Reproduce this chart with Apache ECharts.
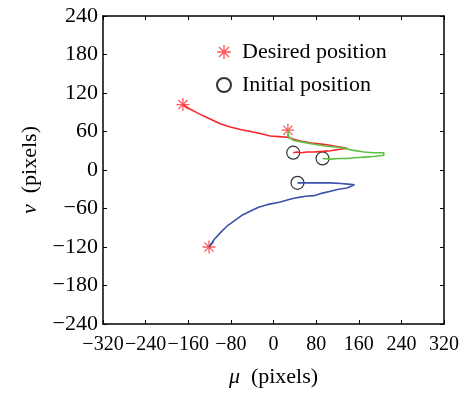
<!DOCTYPE html>
<html>
<head>
<meta charset="utf-8">
<script src="https://cdn.jsdelivr.net/npm/echarts@6/dist/echarts.min.js"></script>
<style>
  html, body { margin: 0; padding: 0; background: #fff; }
  #chart { width: 462px; height: 394px; }
</style>
</head>
<body>
<div id="chart"></div>
<script>
// tick values
var uTicks = [-320, -240, -160, -80, 0, 80, 160, 240, 320];
var vTicks = [-240, -180, -120, -60, 0, 60, 120, 180, 240];

// desired / initial positions (u, v)
var desiredU = [-170, 27, -121];
var desiredV = [102, 62, -120];
var initialU = [37, 92, 45];
var initialV = [27, 18, -20];

// trajectories
var redU = [37, 44, 51, 63, 76, 92, 107, 122, 138, 138, 116, 94, 72, 50, 38, 26, 10, -6, -25, -43, -62, -81, -100, -118, -131, -143, -157, -170];
var redV = [27, 28, 27, 28, 28, 29, 30, 32, 34, 35, 37, 40, 42, 45, 48, 51, 52, 53, 57, 60, 63, 67, 72, 79, 84, 89, 95, 102];
var greenU = [92, 107, 122, 138, 154, 170, 188, 207, 207, 188, 170, 148, 126, 100, 76, 57, 38, 29, 27];
var greenV = [18, 17, 18, 18, 19, 20, 21, 23, 27, 27, 28, 31, 35, 37, 40, 43, 46, 51, 62];
var blueU = [45, 76, 107, 126, 140, 152, 138, 122, 107, 92, 76, 60, 45, 29, 13, -12, -28, -43, -60, -75, -88, -100, -111, -121];
var blueV = [-20, -20, -20, -21, -22, -23, -28, -30, -33, -36, -40, -41, -43, -46, -50, -54, -58, -64, -71, -80, -88, -98, -108, -120];

function pairs(xs, ys) {
    return xs.map(function (x, i) { return [x, ys[i]]; });
}

var serif = 'Liberation Serif';
var fs = 22;
var starPath = 'path://M9 0L11 0L11 20L9 20Z M0 9L20 9L20 11L0 11Z M2.2 3.6L3.6 2.2L17.8 16.4L16.4 17.8Z M16.4 2.2L17.8 3.6L3.6 17.8L2.2 16.4Z';

function minusFmt(v) {
    return String(v).replace('-', '\u2212');
}

var boxLine = { show: true, onZero: false, lineStyle: { color: '#000', width: 1.5 } };
var inTick = { show: true, inside: true, length: 4, lineStyle: { color: '#000', width: 1 } };

var myChart = echarts.init(document.getElementById('chart'));
var option = {
    animation: false,
    backgroundColor: '#fff',
    grid: { left: 103, right: 18, top: 16, bottom: 70 },
    legend: {
        orient: 'vertical',
        left: 211,
        top: 36,
        itemWidth: 14,
        itemHeight: 14,
        itemGap: 11,
        textStyle: { color: '#000', fontFamily: serif, fontSize: fs, lineHeight: 22, padding: [0, 0, 0, 6] },
        data: [
            { name: 'Desired position', icon: starPath },
            { name: 'Initial position', icon: 'circle' }
        ]
    },
    xAxis: [{
        type: 'value',
        position: 'bottom',
        min: -320, max: 320, interval: 80,
        axisLine: boxLine,
        axisTick: inTick,
        axisLabel: {
            show: true, margin: 11, hideOverlap: false, showMinLabel: true, showMaxLabel: true,
            color: '#000', fontFamily: serif, fontSize: 20, formatter: minusFmt
        },
        splitLine: { show: false },
        name: '{i|\u03bc}  (pixels)',
        nameLocation: 'middle',
        nameGap: 42,
        nameTextStyle: {
            color: '#000', fontFamily: serif, fontSize: fs,
            rich: { i: { fontStyle: 'italic', fontFamily: serif, fontSize: fs, color: '#000' } }
        }
    }, {
        type: 'value',
        position: 'top',
        min: -320, max: 320, interval: 80,
        axisLine: boxLine,
        axisTick: inTick,
        axisLabel: { show: false },
        splitLine: { show: false }
    }],
    yAxis: [{
        type: 'value',
        position: 'left',
        min: -240, max: 240, interval: 60,
        axisLine: boxLine,
        axisTick: inTick,
        axisLabel: {
            show: true, margin: 5, showMinLabel: true, showMaxLabel: true,
            color: '#000', fontFamily: serif, fontSize: fs, formatter: minusFmt
        },
        splitLine: { show: false },
        name: '{i|\u03bd}  (pixels)',
        nameLocation: 'middle',
        nameGap: 62,
        nameTextStyle: {
            color: '#000', fontFamily: serif, fontSize: fs,
            rich: { i: { fontStyle: 'italic', fontFamily: serif, fontSize: fs, color: '#000' } }
        }
    }, {
        type: 'value',
        position: 'right',
        min: -240, max: 240, interval: 60,
        axisLine: boxLine,
        axisTick: inTick,
        axisLabel: { show: false },
        splitLine: { show: false }
    }],
    series: [{
        name: 'red',
        type: 'line',
        showSymbol: false,
        data: pairs(redU, redV),
        lineStyle: { color: '#f2262a', width: 1.6 },
        itemStyle: { color: '#f2262a' }
    }, {
        name: 'green',
        type: 'line',
        showSymbol: false,
        data: pairs(greenU, greenV),
        lineStyle: { color: '#5cc23f', width: 1.6 },
        itemStyle: { color: '#5cc23f' }
    }, {
        name: 'blue',
        type: 'line',
        showSymbol: false,
        data: pairs(blueU, blueV),
        lineStyle: { color: '#3a52ab', width: 1.6 },
        itemStyle: { color: '#3a52ab' }
    }, {
        name: 'Desired position',
        type: 'scatter',
        symbol: starPath,
        symbolSize: 13,
        data: pairs(desiredU, desiredV),
        itemStyle: { color: '#ff3030' }
    }, {
        name: 'Initial position',
        type: 'scatter',
        symbol: 'circle',
        symbolSize: 13,
        data: pairs(initialU, initialV),
        itemStyle: { color: 'rgba(0,0,0,0)', borderColor: '#000', borderWidth: 1.2 }
    }]
};
myChart.setOption(option);
window.addEventListener('resize', function () {
    myChart.resize();
});
</script>
</body>
</html>
